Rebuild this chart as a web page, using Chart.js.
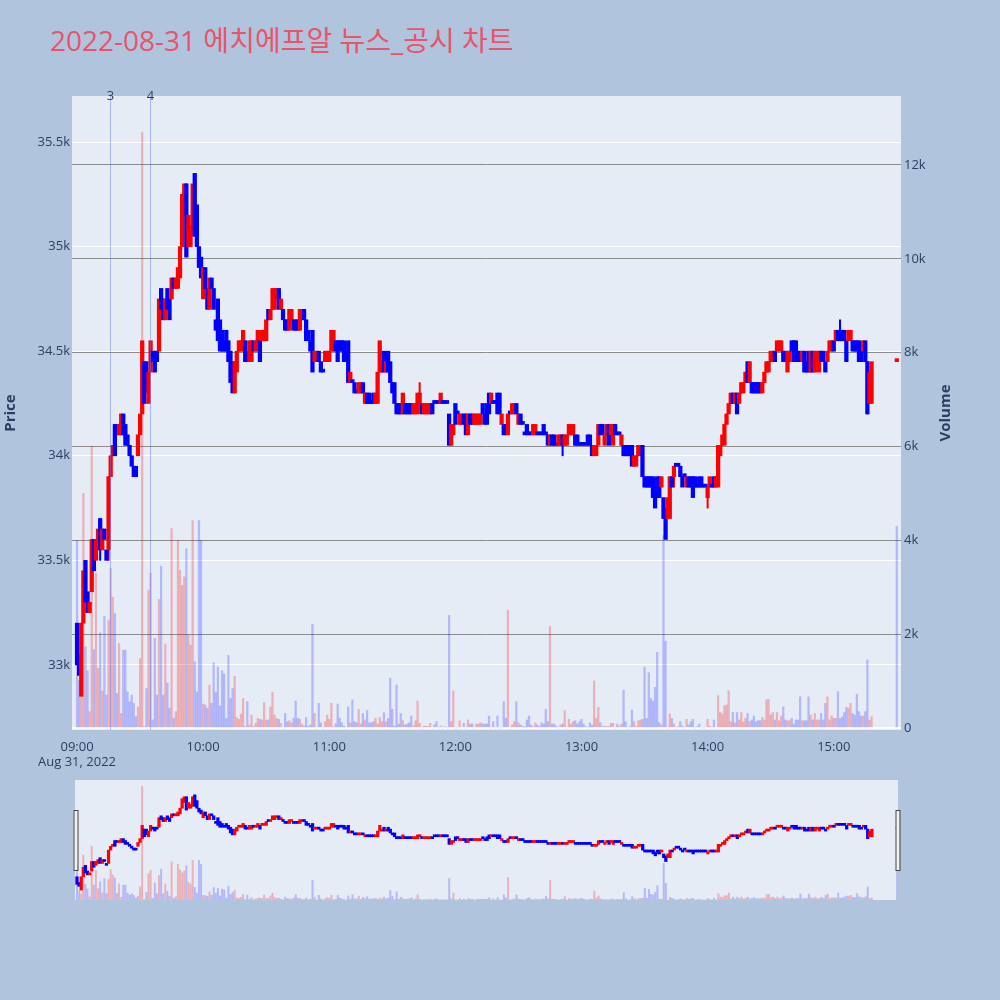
<!DOCTYPE html>
<html>
<head>
<meta charset="utf-8">
<script src="https://cdn.jsdelivr.net/npm/chart.js@4.4.0/dist/chart.umd.min.js"></script>
<style>
  body { margin: 0; width: 1000px; height: 1000px; background: #b0c4de; position: relative; overflow: hidden;
         font-family: "Open Sans", "Noto Sans CJK KR", sans-serif; }
  #title { position: absolute; left: 50px; top: 25px; font-size: 28px; line-height: 30px; color: #e8546a; white-space: nowrap; }
  #main { position: absolute; left: 0; top: 0; }
  #slider { position: absolute; left: 0; top: 770px; }
</style>
</head>
<body>
<div id="title">2022-08-31 에치에프알 뉴스_공시 차트</div>
<canvas id="main" width="1000" height="770"></canvas>
<canvas id="slider" width="1000" height="230"></canvas>
<script>
// minute candles from 09:00 (index = minutes after open), prices in won
const opens = [
  33200,33050,32850,33200,33500,33350,33250,33350,33600,33500,
  33550,33700,33550,33650,33550,33550,33900,34000,34150,34150,
  34100,34100,34200,34150,34100,34050,34000,33950,33950,34000,
  34100,34200,34450,34450,34250,34400,34500,34500,34500,34500,
  34800,34750,34650,34800,34750,34750,34850,34800,34800,34850,
  35000,35150,35300,35000,35000,35050,35350,35200,35000,34950,
  34750,34900,34800,34700,34850,34800,34650,34750,34650,34600,
  34550,34600,34550,34500,34450,34300,34400,34500,34500,34500,
  34550,34500,34450,34450,34550,34500,34500,34550,34550,34550,
  34550,34700,34650,34700,34700,34750,34800,34700,34700,34650,
  34650,34600,34650,34650,34650,34650,34600,34650,34700,34650,
  34600,34550,34600,34450,34450,34500,34450,34400,34450,34450,
  34450,34500,34500,34550,34550,34550,34550,34550,34500,34550,
  34350,34350,34350,34300,34300,34300,34350,34250,34300,34300,
  34250,34300,34250,34250,34400,34400,34500,34400,34500,34450,
  34350,34350,34250,34250,34250,34200,34250,34250,34250,34250,
  34200,34200,34200,34250,34250,34200,34200,34200,34200,34250,
  34250,34250,34250,34250,34250,34250,34250,34200,34050,34100,
  34250,34200,34150,34150,34200,34200,34100,34200,34200,34150,
  34150,34150,34150,34250,34200,34250,34300,34250,34250,34250,
  34300,34300,34150,34150,34150,34100,34200,34200,34200,34250,
  34150,34200,34150,34100,34150,34100,34100,34100,34100,34100,
  34100,34100,34150,34100,34100,34050,34100,34100,34050,34050,
  34050,34100,34050,34050,34100,34100,34100,34100,34100,34050,
  34050,34050,34050,34100,34100,34050,34000,34000,34050,34150,
  34150,34050,34100,34150,34100,34050,34150,34100,34100,34050,
  34050,34050,34050,34050,34050,33950,33950,34000,34000,34050,
  33900,33900,33900,33900,33900,33850,33900,33900,33850,33800,
  33750,33700,33700,33900,33900,33950,33950,33950,33900,33900,
  33850,33900,33900,33900,33900,33850,33900,33900,33850,33850,
  33800,33850,33850,33900,33850,33850,34000,34050,34050,34150,
  34200,34250,34300,34250,34300,34250,34300,34300,34350,34450,
  34350,34350,34350,34350,34350,34350,34300,34350,34400,34400,
  34450,34450,34500,34500,34500,34500,34500,34500,34400,34450,
  34550,34550,34550,34500,34500,34450,34500,34450,34500,34400,
  34500,34400,34450,34400,34500,34500,34450,34450,34500,34500,
  34550,34550,34600,34600,34600,34600,34550,34550,34550,34550,
  34550,34550,34550,34500,34500,34550,34450,34250,34250
];
const closes = [
  33000,32950,33200,33450,33300,33250,33300,33600,33450,33600,
  33650,33550,33650,33600,33500,33900,34000,34050,34000,34100,
  34150,34200,34100,34050,34050,34000,33950,33900,33900,34100,
  34200,34550,34250,34300,34400,34550,34450,34400,34450,34750,
  34700,34650,34750,34700,34650,34850,34800,34850,34900,35000,
  35250,35300,34950,35150,35100,35300,35050,35000,34900,34850,
  34900,34800,34700,34850,34800,34700,34600,34550,34500,34500,
  34500,34500,34450,34350,34300,34450,34500,34550,34550,34600,
  34450,34450,34550,34550,34500,34550,34600,34450,34600,34600,
  34650,34650,34700,34800,34800,34800,34700,34750,34650,34600,
  34600,34700,34700,34600,34600,34600,34700,34700,34650,34550,
  34550,34500,34400,34500,34500,34450,34400,34400,34500,34500,
  34500,34600,34600,34500,34450,34500,34500,34450,34450,34350,
  34400,34350,34300,34300,34350,34350,34300,34300,34250,34250,
  34250,34250,34300,34400,34550,34450,34400,34450,34400,34350,
  34300,34250,34200,34200,34200,34300,34200,34200,34200,34200,
  34250,34250,34300,34300,34200,34250,34250,34250,34250,34200,
  34250,34250,34250,34300,34250,34250,34250,34050,34150,34150,
  34150,34200,34200,34200,34150,34100,34200,34150,34150,34200,
  34200,34200,34200,34200,34150,34150,34200,34300,34250,34250,
  34200,34200,34200,34100,34100,34200,34200,34250,34250,34200,
  34200,34150,34150,34100,34100,34100,34100,34150,34150,34100,
  34100,34100,34100,34100,34050,34100,34050,34050,34050,34100,
  34100,34050,34100,34100,34150,34150,34150,34050,34050,34050,
  34050,34050,34050,34050,34050,34000,34050,34050,34150,34100,
  34100,34100,34150,34050,34150,34150,34100,34100,34100,34100,
  34000,34000,34000,34000,33950,34000,34000,34050,34050,33900,
  33850,33850,33850,33850,33800,33750,33800,33800,33900,33700,
  33600,33800,33900,33850,33950,33950,33950,33900,33850,33900,
  33900,33850,33850,33800,33850,33850,33850,33850,33850,33850,
  33850,33900,33850,33850,33900,34050,34050,34100,34150,34200,
  34250,34300,34250,34300,34200,34300,34350,34350,34400,34350,
  34450,34300,34300,34300,34300,34300,34350,34400,34450,34450,
  34500,34500,34450,34550,34550,34550,34450,34450,34500,34500,
  34500,34450,34450,34450,34450,34500,34400,34400,34400,34500,
  34400,34500,34500,34500,34450,34450,34400,34500,34550,34550,
  34500,34600,34550,34550,34550,34550,34450,34600,34600,34500,
  34500,34500,34450,34450,34550,34450,34200,34400,34450
];
// minutes whose wick reaches beyond the body: [high, low]
const wickRanges = {
  11: [33700, 33500], 15: [33900, 33500], 52: [35300, 34950], 56: [35350, 35050],
  163: [34350, 34250], 231: [34100, 34000], 284: [33950, 33850], 300: [33850, 33750],
  363: [34650, 34550], 376: [34450, 34200]
};
const volumes = [
  4000,1020,670,5000,1730,1220,350,6000,1670,3300,
  1270,2030,790,2380,700,2300,3400,2790,2440,740,
  1800,310,1660,1660,770,560,700,525,240,450,
  1480,12700,30,840,2940,3300,170,1910,700,2740,
  3450,700,1790,960,420,4250,205,350,4000,3360,
  3040,3220,3820,1980,1765,4420,1410,770,4420,4000,
  510,490,420,915,525,1390,760,1300,470,1220,
  1150,205,1545,630,840,1100,225,185,300,630,
  30,560,65,275,30,100,205,185,170,540,
  170,170,450,760,275,205,185,100,0,310,
  135,155,110,205,575,205,185,85,40,225,
  30,65,2210,310,0,525,110,0,135,275,
  185,525,15,85,510,205,110,40,0,450,
  110,600,135,110,400,85,310,170,370,110,
  110,135,205,85,225,135,325,135,205,1060,
  400,40,915,85,310,155,65,85,110,255,
  40,155,575,100,0,40,40,30,100,0,
  65,135,0,40,0,30,0,2400,135,790,
  0,0,155,0,100,0,170,85,85,0,
  85,85,110,85,85,85,255,0,135,0,
  255,0,0,560,205,2510,0,65,135,560,
  110,65,30,15,170,255,65,30,110,65,
  30,110,85,400,135,2170,85,85,40,0,
  65,85,370,0,185,85,135,155,85,135,
  185,85,30,0,110,65,1000,205,440,110,
  30,40,30,30,100,100,0,85,30,85,
  810,135,0,30,380,135,30,155,170,185,
  1300,205,1180,630,575,865,1610,110,65,4100,
  1850,0,300,205,85,0,30,135,40,0,
  185,65,135,185,0,30,85,0,0,0,
  185,40,0,170,0,690,330,300,475,490,
  795,135,330,110,330,170,330,135,205,310,
  135,170,255,135,155,155,225,170,600,610,
  275,330,170,330,155,255,450,170,155,155,
  205,85,170,170,665,155,155,155,665,275,
  170,310,170,170,310,170,525,665,170,255,
  205,205,775,205,240,330,440,420,525,310,
  275,720,350,255,255,350,1450,170,240
];
// 15:30 closing auction
const auctionMinute = 390;
const auctionPrice = 34450;
const auctionVolume = 4300;

const hourTicks = [0, 60, 120, 180, 240, 300, 360];
const hourLabels = ['09:00', '10:00', '11:00', '12:00', '13:00', '14:00', '15:00'];
const dateLabel = 'Aug 31, 2022';
const priceTicks = [33000, 33500, 34000, 34500, 35000, 35500];
const priceLabels = ['33k', '33.5k', '34k', '34.5k', '35k', '35.5k'];
const volTicks = [0, 2000, 4000, 6000, 8000, 10000, 12000];
const volLabels = ['0', '2k', '4k', '6k', '8k', '10k', '12k'];
const newsMinutes = [15.7, 34.8];
const newsLabels = ['3', '4'];

const UP = '#ff0000', DOWN = '#0000ff';
const UP_VOL = 'rgba(255,0,0,0.25)', DOWN_VOL = 'rgba(0,0,255,0.22)';
const FONT = '"Open Sans", "Noto Sans CJK KR", sans-serif';
const TXT = '#2a3f5f';

const isUp = i => closes[i] > opens[i];
const bodies = opens.map((o, i) => ({ x: i, y: [o, closes[i]] }));
bodies.push({ x: auctionMinute, y: [auctionPrice, auctionPrice] });
const bodyColors = opens.map((o, i) => isUp(i) ? UP : DOWN);
bodyColors.push(UP);
const wicks = Object.keys(wickRanges).map(k => ({ x: +k, y: [wickRanges[k][1], wickRanges[k][0]] }));
const wickColors = Object.keys(wickRanges).map(k => isUp(+k) ? UP : DOWN);
const vols = volumes.map((v, i) => ({ x: i, y: v }));
vols.push({ x: auctionMinute, y: auctionVolume });
const volColors = volumes.map((v, i) => isUp(i) ? UP_VOL : DOWN_VOL);
volColors.push(DOWN_VOL);

function fixedTicks(values) {
  return scale => { scale.ticks = values.map(v => ({ value: v })); };
}

const plotBg = {
  id: 'plotBg',
  beforeDraw(chart) {
    const { ctx, chartArea: a } = chart;
    ctx.save();
    ctx.fillStyle = '#e5ecf6';
    ctx.fillRect(a.left, a.top, a.right - a.left, a.bottom - a.top);
    ctx.restore();
  }
};

const newsLines = {
  id: 'newsLines',
  afterDatasetsDraw(chart) {
    const { ctx, chartArea: a, scales } = chart;
    ctx.save();
    newsMinutes.forEach((m, i) => {
      const x = Math.round(scales.x.getPixelForValue(m)) + 0.5;
      ctx.strokeStyle = 'rgba(90,120,255,0.45)';
      ctx.lineWidth = 1;
      ctx.beginPath();
      ctx.moveTo(x, a.top);
      ctx.lineTo(x, a.bottom);
      ctx.stroke();
      ctx.fillStyle = TXT;
      ctx.font = '13px ' + FONT;
      ctx.textAlign = 'center';
      ctx.textBaseline = 'middle';
      ctx.fillText(newsLabels[i], x, a.top);
    });
    ctx.restore();
  }
};

const volumeTitle = {
  id: 'volumeTitle',
  afterDraw(chart) {
    const { ctx, chartArea: a } = chart;
    ctx.save();
    ctx.translate(946, (a.top + a.bottom) / 2);
    ctx.rotate(-Math.PI / 2);
    ctx.fillStyle = TXT;
    ctx.font = 'bold 15px ' + FONT;
    ctx.textAlign = 'center';
    ctx.textBaseline = 'middle';
    ctx.fillText('Volume', 0, 0);
    ctx.restore();
  }
};

new Chart(document.getElementById('main'), {
  type: 'bar',
  data: {
    datasets: [
      { data: bodies, backgroundColor: bodyColors, barThickness: 3.6, minBarLength: 3,
        grouped: false, yAxisID: 'y', order: 1 },
      { data: wicks, backgroundColor: wickColors, barThickness: 1.4,
        grouped: false, yAxisID: 'y', order: 2 },
      { data: vols, backgroundColor: volColors, barThickness: 1.6,
        grouped: false, yAxisID: 'y2', order: 3 }
    ]
  },
  options: {
    responsive: false,
    animation: false,
    layout: { padding: { top: 96, right: 40, left: 0, bottom: 0 } },
    plugins: { legend: { display: false }, tooltip: { enabled: false } },
    scales: {
      x: {
        type: 'linear', min: -2.4, max: 392.0, offset: false,
        grid: { display: false, offset: false }, border: { display: false },
        afterBuildTicks: fixedTicks(hourTicks),
        afterFit: s => { s.height = 40; },
        ticks: {
          autoSkip: false, maxRotation: 0, padding: 1, color: TXT,
          font: { size: 13, family: FONT },
          callback: v => {
            const i = hourTicks.indexOf(v);
            return i === 0 ? [hourLabels[i], dateLabel] : hourLabels[i];
          }
        }
      },
      y: {
        position: 'left', min: 32689, max: 35720,
        afterBuildTicks: fixedTicks(priceTicks),
        afterFit: s => { s.width = 72; },
        grid: { color: '#ffffff', lineWidth: 1, drawTicks: false }, border: { display: false },
        ticks: { padding: 2, color: TXT, font: { size: 13, family: FONT },
                 callback: v => priceLabels[priceTicks.indexOf(v)] },
        title: { display: true, text: 'Price', color: TXT, padding: { top: 2, bottom: 0 },
                 font: { size: 15, weight: 'bold', family: FONT } }
      },
      y2: {
        position: 'right', min: -43, max: 13470, z: 1,
        afterBuildTicks: fixedTicks(volTicks),
        afterFit: s => { s.width = 59; },
        grid: { color: c => c.tick && c.tick.value === 0 ? '#ffffff' : '#8c8c8c',
                lineWidth: c => c.tick && c.tick.value === 0 ? 2 : 1, drawTicks: false },
        border: { display: false },
        ticks: { padding: 3, color: TXT, font: { size: 13, family: FONT },
                 callback: v => volLabels[volTicks.indexOf(v)] }
      }
    }
  },
  plugins: [plotBg, newsLines, volumeTitle]
});

const sliderHandles = {
  id: 'sliderHandles',
  afterDraw(chart) {
    const { ctx, chartArea: a } = chart;
    ctx.save();
    ctx.fillStyle = '#f2f2f2';
    ctx.strokeStyle = '#444';
    ctx.lineWidth = 1;
    [a.left - 1.5, a.right - 2.5].forEach(x => {
      ctx.fillRect(x, 40, 4, 60);
      ctx.strokeRect(x + 0.5, 40.5, 4, 60);
    });
    ctx.restore();
  }
};

new Chart(document.getElementById('slider'), {
  type: 'bar',
  data: {
    datasets: [
      { data: bodies, backgroundColor: bodyColors, barThickness: 2.6, minBarLength: 2,
        grouped: false, yAxisID: 'y', order: 1 },
      { data: vols, backgroundColor: volColors, barThickness: 1.3,
        grouped: false, yAxisID: 'y2', order: 2 }
    ]
  },
  options: {
    responsive: false,
    animation: false,
    layout: { padding: { top: 10, right: 102, left: 75, bottom: 100 } },
    plugins: { legend: { display: false }, tooltip: { enabled: false } },
    scales: {
      x: { type: 'linear', display: false, min: -0.95, max: 390.4, offset: false },
      y: { display: false, min: 32590, max: 35740 },
      y2: { display: false, min: 0, max: 13400 }
    }
  },
  plugins: [plotBg, sliderHandles]
});
</script>
</body>
</html>
